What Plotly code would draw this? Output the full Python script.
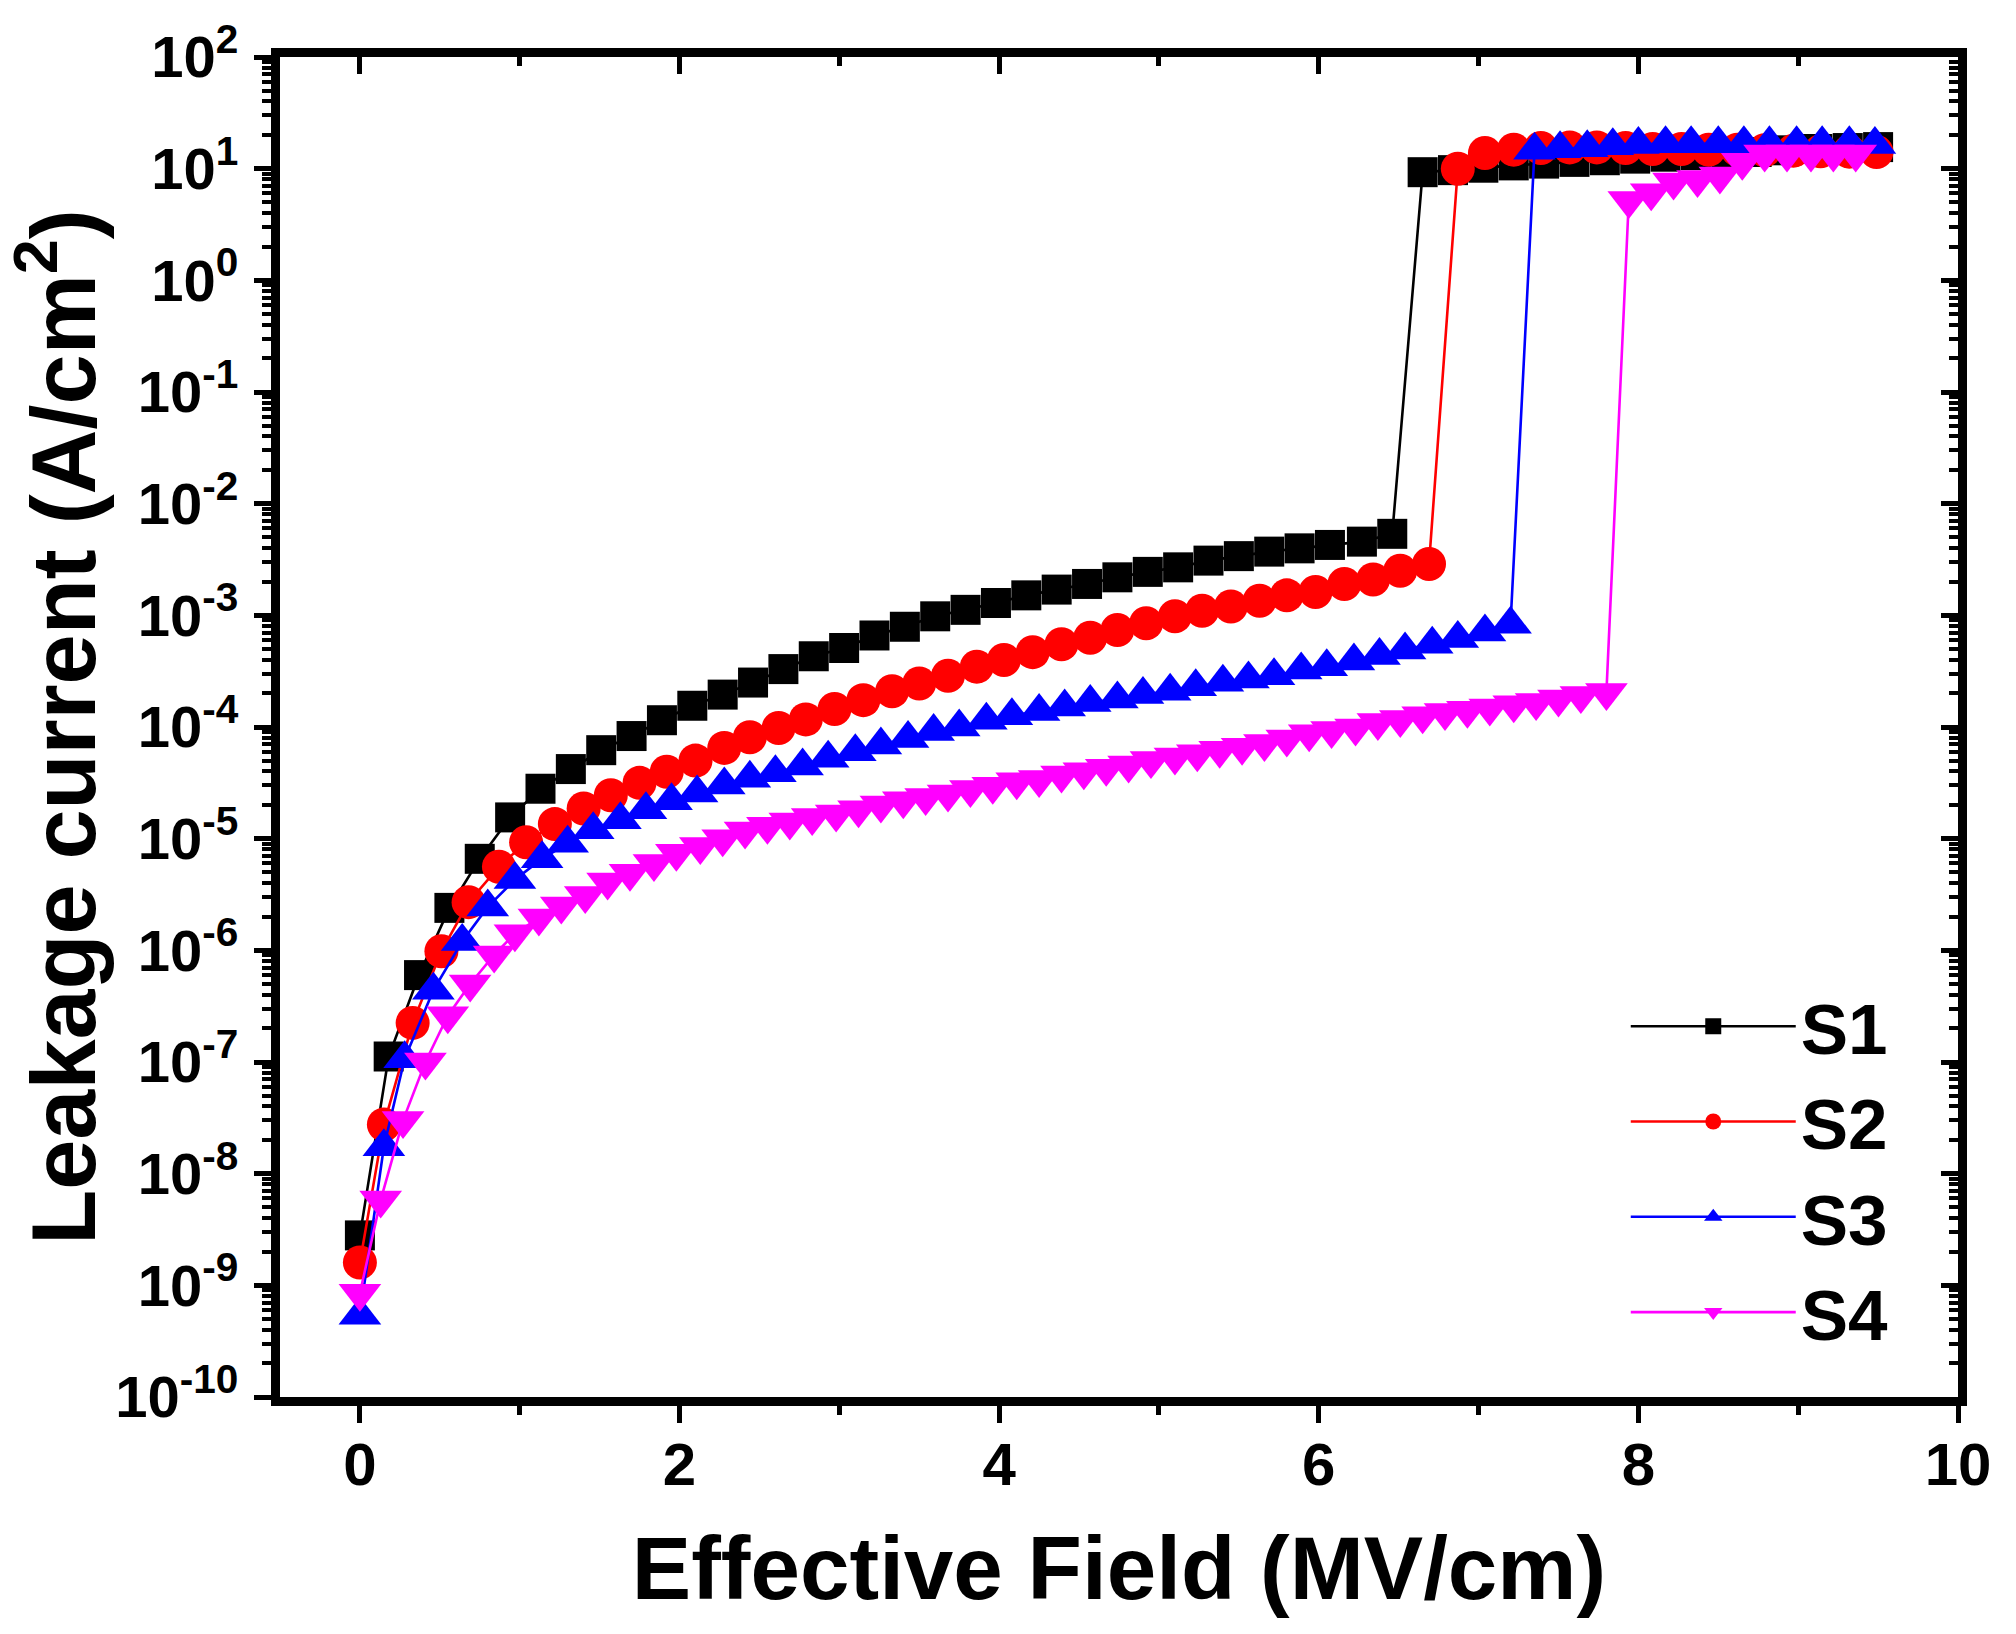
import plotly.graph_objects as go

# ---------------- data ----------------
series_names = ["S1", "S2", "S3", "S4"]

s1_field = [0, 0.18, 0.37, 0.56, 0.75, 0.94, 1.13, 1.32, 1.51, 1.70, 1.89, 2.08, 2.27, 2.46,
            2.65, 2.84, 3.03, 3.22, 3.41, 3.60, 3.79, 3.98, 4.17, 4.36, 4.55, 4.74, 4.93, 5.12,
            5.31, 5.50, 5.69, 5.88, 6.07, 6.27, 6.46,
            6.65, 6.84, 7.03, 7.22, 7.41, 7.60, 7.79, 7.98, 8.17, 8.36, 8.55, 8.74, 8.93, 9.12,
            9.31, 9.50]
s1_current = [2.8e-9, 1.12e-7, 6.0e-7, 2.4e-6, 6.6e-6, 1.55e-5, 2.8e-5, 4.2e-5, 6.2e-5, 8.3e-5,
              1.15e-4, 1.55e-4, 1.95e-4, 2.5e-4, 3.3e-4, 4.3e-4, 5.1e-4, 6.6e-4, 7.9e-4, 9.8e-4,
              1.12e-3, 1.29e-3, 1.51e-3, 1.70e-3, 1.91e-3, 2.19e-3, 2.45e-3, 2.69e-3, 3.09e-3,
              3.39e-3, 3.72e-3, 3.98e-3, 4.27e-3, 4.57e-3, 5.37e-3,
              9.3, 9.7, 10.2, 10.7, 11.1, 11.5, 11.9, 12.3, 12.8, 13.2, 13.6, 14.1, 14.6, 15.0,
              15.3, 15.6]

s2_field = [0, 0.15, 0.33, 0.51, 0.68, 0.87, 1.04, 1.22, 1.40, 1.57, 1.75, 1.92, 2.10, 2.28,
            2.44, 2.62, 2.79, 2.97, 3.15, 3.33, 3.50, 3.68, 3.86, 4.03, 4.21, 4.39, 4.57, 4.74,
            4.92, 5.10, 5.27, 5.45, 5.63, 5.80, 5.98, 6.16, 6.34, 6.51, 6.69,
            6.87, 7.04, 7.22, 7.39, 7.57, 7.74, 7.92, 8.09, 8.27, 8.44, 8.62, 8.79, 8.97, 9.14,
            9.32, 9.49]
s2_current = [1.6e-9, 2.75e-8, 2.24e-7, 9.8e-7, 2.7e-6, 5.6e-6, 9.3e-6, 1.35e-5, 1.86e-5,
              2.45e-5, 3.16e-5, 3.98e-5, 5.0e-5, 6.5e-5, 8.1e-5, 9.8e-5, 1.17e-4, 1.45e-4,
              1.74e-4, 2.09e-4, 2.45e-4, 2.88e-4, 3.47e-4, 3.98e-4, 4.68e-4, 5.5e-4, 6.3e-4,
              7.4e-4, 8.5e-4, 9.8e-4, 1.10e-3, 1.20e-3, 1.35e-3, 1.51e-3, 1.62e-3, 1.91e-3,
              2.09e-3, 2.51e-3, 2.88e-3,
              10.0, 13.8, 14.8, 15.3, 15.5, 15.5, 15.3, 15.0, 15.0, 14.8, 14.8, 14.6, 14.5,
              14.3, 14.2, 14.1]

s3_field = [0, 0.15, 0.28, 0.46, 0.64, 0.80, 0.97, 1.14, 1.30, 1.46, 1.63, 1.79, 1.95, 2.11,
            2.28, 2.44, 2.60, 2.77, 2.93, 3.10, 3.26, 3.43, 3.59, 3.75, 3.92, 4.08, 4.25, 4.41,
            4.57, 4.74, 4.90, 5.07, 5.23, 5.40, 5.56, 5.72, 5.89, 6.05, 6.22, 6.38, 6.54, 6.71,
            6.87, 7.04, 7.20,
            7.35, 7.51, 7.68, 7.84, 8.00, 8.17, 8.33, 8.50, 8.66, 8.82, 8.99, 9.15, 9.32, 9.48]
s3_current = [5.4e-10, 1.74e-8, 1.07e-7, 4.4e-7, 1.2e-6, 2.45e-6, 4.3e-6, 6.6e-6, 9.1e-6,
              1.2e-5, 1.48e-5, 1.82e-5, 2.19e-5, 2.57e-5, 3.02e-5, 3.47e-5, 3.89e-5, 4.47e-5,
              5.25e-5, 6.0e-5, 6.9e-5, 7.9e-5, 9.1e-5, 1.0e-4, 1.15e-4, 1.26e-4, 1.38e-4,
              1.51e-4, 1.66e-4, 1.78e-4, 1.95e-4, 2.09e-4, 2.29e-4, 2.51e-4, 2.69e-4, 2.88e-4,
              3.24e-4, 3.47e-4, 3.89e-4, 4.37e-4, 4.9e-4, 5.5e-4, 6.2e-4, 7.1e-4, 8.3e-4,
              14.6, 15.1, 15.4, 16.0, 16.5, 16.7, 16.7, 16.7, 16.7, 16.7, 16.7, 16.7, 16.7, 16.5]

s4_field = [0, 0.13, 0.27, 0.41, 0.55, 0.69, 0.84, 0.97, 1.12, 1.26, 1.41, 1.55, 1.69, 1.84,
            1.98, 2.13, 2.27, 2.41, 2.55, 2.69, 2.83, 2.98, 3.12, 3.26, 3.40, 3.54, 3.68, 3.82,
            3.96, 4.11, 4.25, 4.39, 4.53, 4.67, 4.81, 4.95, 5.10, 5.24, 5.38, 5.52, 5.66, 5.80,
            5.94, 6.08, 6.23, 6.37, 6.51, 6.65, 6.79, 6.93, 7.07, 7.22, 7.36, 7.50, 7.64, 7.80,
            7.94, 8.08, 8.22, 8.37, 8.51, 8.65, 8.79, 8.93, 9.08, 9.22, 9.36]
s4_current = [8.5e-10, 5.8e-9, 3.0e-8, 1.0e-7, 2.6e-7, 5.0e-7, 9.1e-7, 1.41e-6, 1.95e-6,
              2.5e-6, 3.1e-6, 4.1e-6, 4.9e-6, 6.0e-6, 7.4e-6, 8.5e-6, 1.0e-5, 1.17e-5,
              1.29e-5, 1.41e-5, 1.55e-5, 1.66e-5, 1.82e-5, 2.0e-5, 2.19e-5, 2.34e-5, 2.51e-5,
              2.75e-5, 2.95e-5, 3.24e-5, 3.39e-5, 3.72e-5, 3.98e-5, 4.27e-5, 4.57e-5, 5.0e-5,
              5.4e-5, 5.75e-5, 6.2e-5, 6.6e-5, 7.1e-5, 7.8e-5, 8.7e-5, 9.3e-5, 9.8e-5, 1.10e-4,
              1.17e-4, 1.26e-4, 1.35e-4, 1.41e-4, 1.48e-4, 1.58e-4, 1.66e-4, 1.78e-4, 1.91e-4,
              2.04e-4,
              5.2, 6.1, 7.6, 8.0, 8.6, 11.4, 13.5, 13.5, 13.5, 13.5, 13.5]

x_tick_values = [0, 2, 4, 6, 8, 10]
y_decades = list(range(-10, 3))
y_tick_labels = ["10<sup>%d</sup>" % d for d in y_decades]

# ---------------- styling ----------------
colors = ["#000000", "#FF0000", "#0000FF", "#FF00FF"]
symbols = ["square", "circle", "triangle-up", "triangle-down"]
sizes = [30, 34, 37, 37]
FONT = "Liberation Sans"

fields = [s1_field, s2_field, s3_field, s4_field]
currents = [s1_current, s2_current, s3_current, s4_current]

fig = go.Figure()
for name, xs, ys, c, sym, sz in zip(series_names, fields, currents, colors, symbols, sizes):
    fig.add_trace(go.Scatter(
        x=xs, y=ys, mode="lines+markers", name=name,
        line=dict(color=c, width=2.6),
        marker=dict(symbol=sym, size=sz, color=c, line=dict(width=0)),
    ))

# empty trace so the mirrored (top / right) axes with inward ticks get drawn
fig.add_trace(go.Scatter(x=[], y=[], xaxis="x2", yaxis="y2", showlegend=False,
                         hoverinfo="skip"))

y_tickvals = [10.0 ** d for d in y_decades]
y_minorvals = [m * 10.0 ** d for d in range(-10, 2) for m in range(2, 10)]

line_w = 9
tick_w = 5
major_len = 17
minor_len = 9

common = dict(showline=True, linewidth=line_w, linecolor="black", showgrid=False,
              zeroline=False, tickcolor="black", tickwidth=tick_w, ticklen=major_len)

fig.update_layout(
    width=2016, height=1634,
    margin=dict(l=280, r=58, t=57, b=237, autoexpand=False),
    paper_bgcolor="white", plot_bgcolor="white",
    font=dict(family=FONT, color="black", weight="bold"),
    showlegend=True,
    legend=dict(x=0.802, y=0.316, xanchor="left", yanchor="top",
                font=dict(family=FONT, size=71, color="black", weight="bold"),
                bgcolor="rgba(0,0,0,0)", borderwidth=0, itemwidth=165,
                tracegroupgap=0),
    xaxis=dict(
        **common, range=[-0.5, 10], ticks="outside",
        tickmode="array", tickvals=x_tick_values,
        ticktext=[str(v) for v in x_tick_values],
        tickfont=dict(family=FONT, size=60, color="black", weight="bold"),
        ticklabelstandoff=-10,
        minor=dict(tickmode="array", tickvals=[1, 3, 5, 7, 9], ticks="outside",
                   ticklen=minor_len, tickwidth=tick_w, tickcolor="black"),
        title=dict(text="Effective Field (MV/cm)",
                   font=dict(family=FONT, size=89, color="black", weight="bold"),
                   standoff=43),
        automargin=False,
    ),
    yaxis=dict(
        **common, type="log", range=[-10, 2], ticks="outside",
        tickmode="array", tickvals=y_tickvals, ticktext=y_tick_labels,
        tickfont=dict(family=FONT, size=58, color="black", weight="bold"),
        ticklabelstandoff=4,
        minor=dict(tickmode="array", tickvals=y_minorvals, ticks="outside",
                   ticklen=minor_len, tickwidth=4, tickcolor="black"),
        title=dict(text="Leakage current (A/cm<sup>2</sup>)",
                   font=dict(family=FONT, size=90, color="black", weight="bold"),
                   standoff=24),
        automargin=False,
    ),
    xaxis2=dict(
        **common, range=[-0.5, 10], overlaying="x", side="top", anchor="y",
        ticks="inside", tickmode="array", tickvals=x_tick_values,
        showticklabels=False,
        minor=dict(tickmode="array", tickvals=[1, 3, 5, 7, 9], ticks="inside",
                   ticklen=minor_len, tickwidth=tick_w, tickcolor="black"),
    ),
    yaxis2=dict(
        **common, type="log", range=[-10, 2], overlaying="y", side="right", anchor="x",
        ticks="inside", tickmode="array", tickvals=y_tickvals, showticklabels=False,
        minor=dict(tickmode="array", tickvals=y_minorvals, ticks="inside",
                   ticklen=minor_len, tickwidth=4, tickcolor="black"),
    ),
)

fig.write_html("out.html", config={"displayModeBar": False},
               post_script="document.body.style.margin='0';")
